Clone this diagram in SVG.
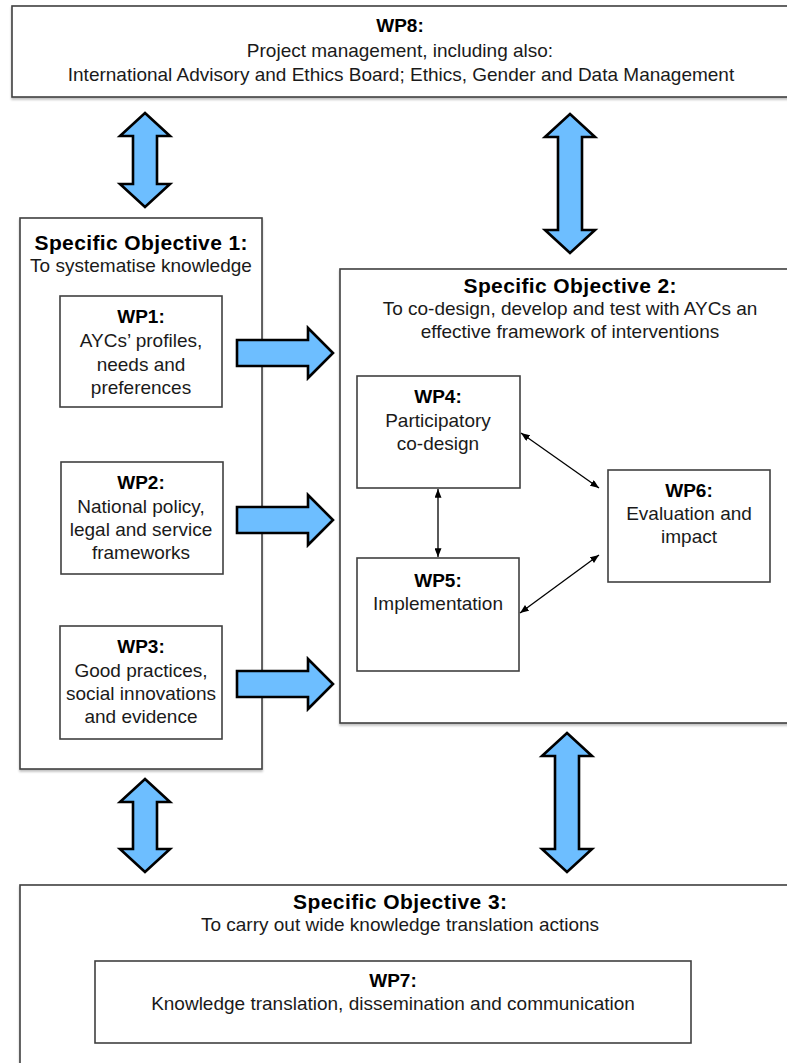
<svg xmlns="http://www.w3.org/2000/svg" width="787" height="1063" viewBox="0 0 787 1063">
<style>
.box{fill:#fff;stroke:#404040;stroke-width:1.6;filter:url(#sh)}
.wp{fill:#fff;stroke:#404040;stroke-width:1.6}
.t{font-family:"Liberation Sans",Arial,sans-serif;font-size:19px;fill:#1a1a1a;text-anchor:middle}
.b{font-weight:bold;fill:#000}
.h{font-family:"Liberation Sans",Arial,sans-serif;font-size:21px;font-weight:bold;fill:#000;text-anchor:middle}
.blk{fill:#6DBEFF;stroke:#000;stroke-width:2.6;stroke-linejoin:miter}
.ln{stroke:#000;stroke-width:1.3;fill:none;marker-start:url(#ah);marker-end:url(#ah)}
</style>
<defs>
<filter id="sh" x="-5%" y="-5%" width="110%" height="115%">
<feDropShadow dx="0" dy="2" stdDeviation="1.2" flood-color="#000" flood-opacity="0.25"/>
</filter>
<marker id="ah" viewBox="0 0 10 8" refX="10" refY="4" markerWidth="9" markerHeight="7" markerUnits="userSpaceOnUse" orient="auto-start-reverse">
<path d="M0,0 L10,4 L0,8 Z" fill="#000"/>
</marker>
</defs>
<rect width="787" height="1063" fill="#fff"/>

<g id="wp8">
<rect class="box" x="12" y="6" width="800" height="91"/>
<text class="t b" x="400" y="32">WP8:</text>
<text class="t" x="400" y="57">Project management, including also:</text>
<text class="t" x="401" y="81">International Advisory and Ethics Board; Ethics, Gender and Data Management</text>
</g>

<g id="so1">
<rect class="box" x="20" y="218" width="242" height="551"/>
<text class="h" x="141" y="250" textLength="213" lengthAdjust="spacing">Specific Objective 1:</text>
<text class="t" x="141" y="272">To systematise knowledge</text>
</g>

<g id="wp1">
<rect class="wp" x="60" y="296" width="162" height="111"/>
<text class="t b" x="141" y="323">WP1:</text>
<text class="t" x="141" y="347">AYCs’ profiles,</text>
<text class="t" x="141" y="371">needs and</text>
<text class="t" x="141" y="394">preferences</text>
</g>

<g id="wp2">
<rect class="wp" x="61" y="462" width="162" height="112"/>
<text class="t b" x="141" y="489">WP2:</text>
<text class="t" x="141" y="513">National policy,</text>
<text class="t" x="141" y="536">legal and service</text>
<text class="t" x="141" y="559">frameworks</text>
</g>

<g id="wp3">
<rect class="wp" x="60" y="626" width="162" height="113"/>
<text class="t b" x="141" y="653">WP3:</text>
<text class="t" x="141" y="677">Good practices,</text>
<text class="t" x="141" y="700">social innovations</text>
<text class="t" x="141" y="723">and evidence</text>
</g>

<g id="so2">
<rect class="box" x="340" y="269" width="470" height="454"/>
<text class="h" x="570" y="293" textLength="213" lengthAdjust="spacing">Specific Objective 2:</text>
<text class="t" x="570" y="315">To co-design, develop and test with AYCs an</text>
<text class="t" x="570" y="338">effective framework of interventions</text>
</g>

<g id="wp4">
<rect class="wp" x="357" y="376" width="163" height="112"/>
<text class="t b" x="438" y="403">WP4:</text>
<text class="t" x="438" y="427">Participatory</text>
<text class="t" x="438" y="450">co-design</text>
</g>

<g id="wp5">
<rect class="wp" x="357" y="558" width="162" height="113"/>
<text class="t b" x="438" y="587">WP5:</text>
<text class="t" x="438" y="610">Implementation</text>
</g>

<g id="wp6">
<rect class="wp" x="608" y="470" width="162" height="112"/>
<text class="t b" x="689" y="497">WP6:</text>
<text class="t" x="689" y="520">Evaluation and</text>
<text class="t" x="689" y="543">impact</text>
</g>

<g id="so3">
<rect class="box" x="20" y="885" width="800" height="200"/>
<text class="h" x="400" y="909" textLength="214" lengthAdjust="spacing">Specific Objective 3:</text>
<text class="t" x="400" y="931">To carry out wide knowledge translation actions</text>
</g>

<g id="wp7">
<rect class="wp" x="95" y="961" width="596" height="82"/>
<text class="t b" x="393" y="987">WP7:</text>
<text class="t" x="393" y="1010">Knowledge translation, dissemination and communication</text>
</g>

<g id="connectors">
<path class="blk" d="M145,113 L170,136 H157 V184 H170 L145,207 L120,184 H133 V136 H120 Z"/>
<path class="blk" d="M570,114 L595,137 H582 V230 H595 L570,253 L545,230 H558 V137 H545 Z"/>
<path class="blk" d="M145,779 L170,802 H157 V849 H170 L145,872 L120,849 H133 V802 H120 Z"/>
<path class="blk" d="M567,733 L592,756 H579 V849 H592 L567,872 L542,849 H555 V756 H542 Z"/>
<path class="blk" d="M237,340 H308 V328 L333,353 L308,378 V366 H237 Z"/>
<path class="blk" d="M237,507 H308 V495 L333,520 L308,545 V533 H237 Z"/>
<path class="blk" d="M237,671 H308 V659 L333,684 L308,709 V697 H237 Z"/>
<line class="ln" x1="438" y1="489" x2="438" y2="557"/>
<line class="ln" x1="521" y1="433" x2="599" y2="488"/>
<line class="ln" x1="520" y1="613" x2="599" y2="555"/>
</g>
</svg>
